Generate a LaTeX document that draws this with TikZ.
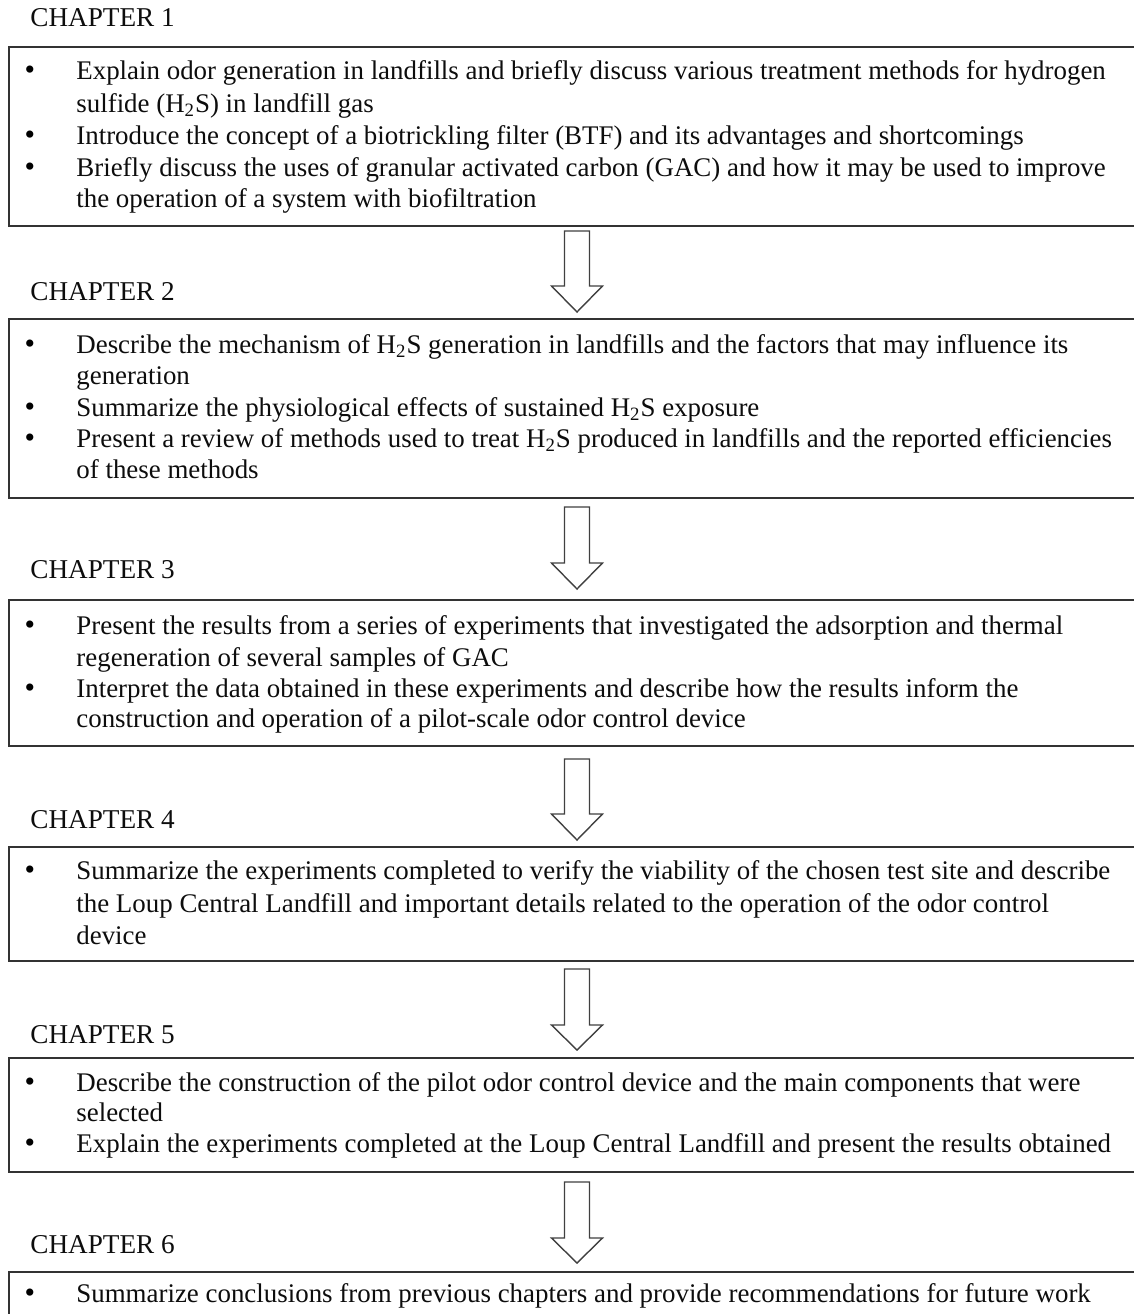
\documentclass[tikz,border=0pt]{standalone}
\usepackage{fontspec}
\setmainfont{Liberation Serif}
\tikzset{
  txt/.style={anchor=base west, inner sep=0pt, font=\fontsize{13.45}{15}\selectfont, text=black!95},
  bul/.style={anchor=base, inner sep=0pt, font=\fontsize{15}{15}\selectfont, text=black},
  chap/.style={anchor=base west, inner sep=0pt, font=\fontsize{13.6}{15}\selectfont, text=black!95},
  boxline/.style={draw=black!80, line width=1pt},
  blockarrow/.style={draw=black!75, line width=0.7pt, fill=white, line join=miter},
}
\newcommand{\HS}{H\textsubscript{2}S}
\begin{document}
\begin{tikzpicture}[x=0.5pt,y=-0.5pt]
\useasboundingbox[fill=white] (0,0) rectangle (1134,1314);

% ---------- boxes ----------
\coordinate (b1nw) at (9,47);   \coordinate (b1se) at (1150,226);
\coordinate (b2nw) at (9,319);  \coordinate (b2se) at (1150,498);
\coordinate (b3nw) at (9,600);  \coordinate (b3se) at (1150,746);
\coordinate (b4nw) at (9,847);  \coordinate (b4se) at (1150,961);
\coordinate (b5nw) at (9,1058); \coordinate (b5se) at (1150,1172);
\coordinate (b6nw) at (9,1272); \coordinate (b6se) at (1150,1330);
\foreach \i in {1,...,6}{\draw[boxline] (b\i nw) rectangle (b\i se);}

% ---------- chapter labels ----------
\node[chap] (c1) at (30,26) {CHAPTER 1};
\node[chap] (c2) at (30,300) {CHAPTER 2};
\node[chap] (c3) at (30,578) {CHAPTER 3};
\node[chap] (c4) at (30,828) {CHAPTER 4};
\node[chap] (c5) at (30,1043) {CHAPTER 5};
\node[chap] (c6) at (30,1253) {CHAPTER 6};

% ---------- chapter 1 ----------
\node[bul] (p11) at (30,79) {\textbullet};
\node[txt] (t11) at (76,79) {Explain odor generation in landfills and briefly discuss various treatment methods for hydrogen};
\node[txt] (t12) at (76,112) {sulfide (\HS) in landfill gas};
\node[bul] (p13) at (30,144) {\textbullet};
\node[txt] (t13) at (76,144) {Introduce the concept of a biotrickling filter (BTF) and its advantages and shortcomings};
\node[bul] (p14) at (30,176) {\textbullet};
\node[txt] (t14) at (76,176) {Briefly discuss the uses of granular activated carbon (GAC) and how it may be used to improve};
\node[txt] (t15) at (76,207) {the operation of a system with biofiltration};

% ---------- chapter 2 ----------
\node[bul] (p21) at (30,353) {\textbullet};
\node[txt] (t21) at (76,353) {Describe the mechanism of \HS{} generation in landfills and the factors that may influence its};
\node[txt] (t22) at (76,384) {generation};
\node[bul] (p23) at (30,416) {\textbullet};
\node[txt] (t23) at (76,416) {Summarize the physiological effects of sustained \HS{} exposure};
\node[bul] (p24) at (30,447) {\textbullet};
\node[txt] (t24) at (76,447) {Present a review of methods used to treat \HS{} produced in landfills and the reported efficiencies};
\node[txt] (t25) at (76,478) {of these methods};

% ---------- chapter 3 ----------
\node[bul] (p31) at (30,634) {\textbullet};
\node[txt] (t31) at (76,634) {Present the results from a series of experiments that investigated the adsorption and thermal};
\node[txt] (t32) at (76,666) {regeneration of several samples of GAC};
\node[bul] (p33) at (30,697) {\textbullet};
\node[txt] (t33) at (76,697) {Interpret the data obtained in these experiments and describe how the results inform the};
\node[txt] (t34) at (76,727) {construction and operation of a pilot-scale odor control device};

% ---------- chapter 4 ----------
\node[bul] (p41) at (30,879) {\textbullet};
\node[txt] (t41) at (76,879) {Summarize the experiments completed to verify the viability of the chosen test site and describe};
\node[txt] (t42) at (76,912) {the Loup Central Landfill and important details related to the operation of the odor control};
\node[txt] (t43) at (76,944) {device};

% ---------- chapter 5 ----------
\node[bul] (p51) at (30,1091) {\textbullet};
\node[txt] (t51) at (76,1091) {Describe the construction of the pilot odor control device and the main components that were};
\node[txt] (t52) at (76,1121) {selected};
\node[bul] (p53) at (30,1152) {\textbullet};
\node[txt] (t53) at (76,1152) {Explain the experiments completed at the Loup Central Landfill and present the results obtained};

% ---------- chapter 6 ----------
\node[bul] (p61) at (30,1302) {\textbullet};
\node[txt] (t61) at (76,1302) {Summarize conclusions from previous chapters and provide recommendations for future work};

% ---------- block arrows ----------
\foreach \top/\hs/\tip in {231/286/312, 507/563/589, 759/814/840, 969/1025/1050, 1182/1238/1263}{
  \draw[blockarrow] (564.5,\top) -- (589.5,\top) -- (589.5,\hs) -- (602.5,\hs) -- (577,\tip)
     -- (551.5,\hs) -- (564.5,\hs) -- cycle;
}
\end{tikzpicture}
\end{document}
